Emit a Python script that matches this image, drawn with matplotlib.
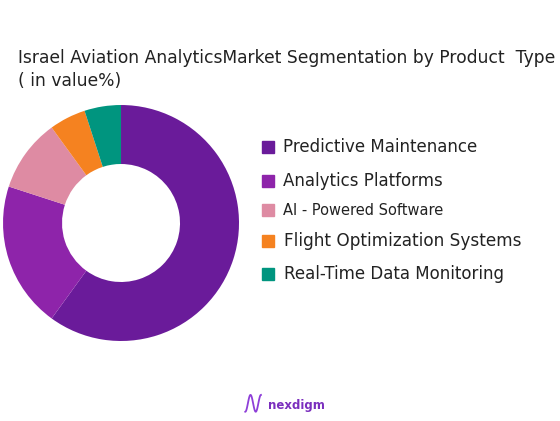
import matplotlib.pyplot as plt
import numpy as np

labels = ['Predictive Maintenance', 'Analytics Platforms', 'AI - Powered Software',
          'Flight Optimization Systems', 'Real-Time Data Monitoring']
values = [60, 20, 10, 5, 5]
colors = ['#6A1B9A', '#8E24AA', '#DE8BA3', '#F58220', '#00957F']
label_sizes = [12.0, 12.0, 10.5, 12.2, 12.0]
label_x = [0.505, 0.505, 0.505, 0.508, 0.508]
label_y = [0.650, 0.570, 0.501, 0.427, 0.349]

plt.rcParams['font.family'] = ['DejaVu Sans']

fig = plt.figure(figsize=(5.6, 4.21), dpi=100)

ax = fig.add_axes([0.0054, 0.190, 0.4214, 0.5606])
ax.pie(values, colors=colors, startangle=90, counterclock=False, radius=1,
       wedgeprops=dict(width=0.5, edgecolor='none'))
ax.set_xlim(-1, 1)
ax.set_ylim(-1, 1)
ax.set_aspect('equal')

fig.text(0.032, 0.862, 'Israel Aviation AnalyticsMarket Segmentation by Product  Type',
         fontsize=12.3, color='#222222', va='center')
fig.text(0.032, 0.808, '( in value%)', fontsize=12.3, color='#222222', va='center')

for lab, col, sz, x, y in zip(labels, colors, label_sizes, label_x, label_y):
    fig.patches.append(plt.Rectangle((0.468, y - 0.014), 0.021, 0.028,
                                     transform=fig.transFigure, color=col))
    fig.text(x, y, lab, fontsize=sz, color='#222222', va='center')

# logo
t = np.linspace(0, 1, 80)
fig.lines.append(plt.Line2D(0.438 + 0.028 * t, 0.022 + 0.04 * (0.5 - 0.5 * np.cos(3 * np.pi * t)),
                            transform=fig.transFigure, color='#8E3FD8', lw=1.3))
fig.text(0.478, 0.038, 'nexdigm', fontsize=8.5, fontweight='bold', color='#7B2FBE', va='center')

fig.savefig('out.png', dpi=100)
